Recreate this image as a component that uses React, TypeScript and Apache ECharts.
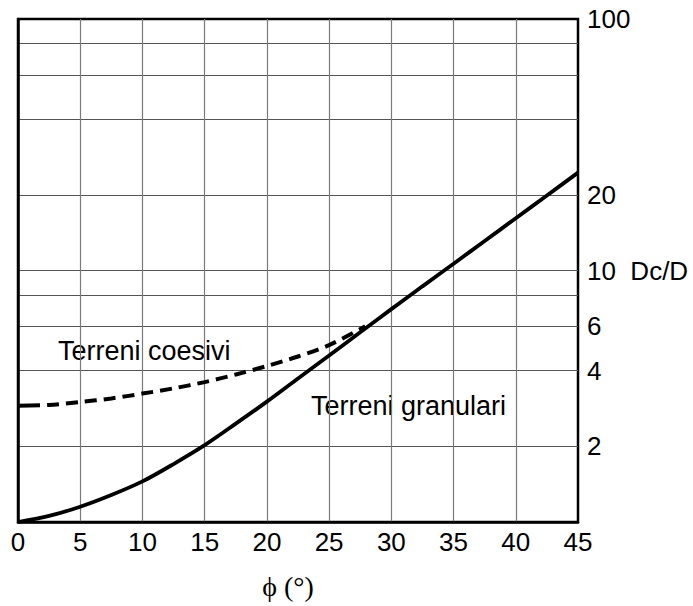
import React, { useEffect, useRef } from "react";
import * as echarts from "echarts";

// Friction angle φ (degrees)
const phiGranulari = [0, 2.5, 5, 7.5, 10, 12.5, 15, 17.5, 20, 22.5, 25, 27.5, 30, 32.5, 35, 37.5, 40, 42.5, 45];
// Dc/D for granular soils
const granulari = [1.0, 1.057, 1.15, 1.28, 1.45, 1.7, 2.02, 2.46, 3.01, 3.72, 4.59, 5.68, 7.02, 8.65, 10.64, 13.1, 16.14, 19.86, 24.5];

const phiCoesivi = [0, 2.5, 5, 7.5, 10, 12.5, 15, 17.5, 20, 22.5, 25, 27.9];
// Dc/D for cohesive soils
const coesivi = [2.9, 2.92, 3.0, 3.1, 3.24, 3.4, 3.6, 3.86, 4.17, 4.55, 5.05, 6.0];

const xTicks = { min: 0, max: 45, step: 5 };
const yGridValues = [2, 4, 6, 8, 10, 20, 40, 60, 80];
const yLabelValues = [2, 4, 6, 10, 20, 100];

const SANS = "'Liberation Sans', Arial, Helvetica, sans-serif";
const SERIF = "'Liberation Serif', 'Times New Roman', serif";

// long first dash, then regular dashes
const coesiviDash = [22, 7, ...Array.from({ length: 40 }, () => [12, 7]).flat()];

export default function App() {
  const ref = useRef<HTMLDivElement>(null);

  useEffect(() => {
    document.body.style.margin = "0";
    if (!ref.current) return;
    const chart = echarts.init(ref.current, undefined, { renderer: "svg" });

    chart.setOption({
      animation: false,
      backgroundColor: "#fff",
      grid: {
        left: 18,
        right: 115,
        top: 19,
        bottom: 84,
        show: true,
        borderColor: "#000",
        borderWidth: 2.5,
        containLabel: false,
      },
      xAxis: {
        type: "value",
        min: xTicks.min,
        max: xTicks.max,
        interval: xTicks.step,
        axisLine: { show: true, lineStyle: { color: "#000", width: 2.5 } },
        axisTick: { show: false },
        axisLabel: { color: "#000", fontSize: 26, fontFamily: SANS, margin: 7 },
        splitLine: {
          show: true,
          showMinLine: false,
          showMaxLine: false,
          lineStyle: { color: "#7a7a7a", width: 1.2 },
        },
      },
      yAxis: {
        type: "log",
        logBase: 10,
        min: 1,
        max: 100,
        position: "right",
        axisLine: { show: true, lineStyle: { color: "#000", width: 2.5 } },
        axisTick: { show: false, customValues: yGridValues },
        axisLabel: {
          customValues: yLabelValues,
          color: "#000",
          fontSize: 26,
          fontFamily: SANS,
          margin: 9,
          formatter: (v: number) => (v === 10 ? "10  Dc/D" : String(v)),
        },
        splitLine: { show: true, lineStyle: { color: "#555", width: 1.2 } },
      },
      series: [
        {
          name: "Terreni coesivi",
          type: "line",
          data: phiCoesivi.map((p, i) => [p, coesivi[i]]),
          symbol: "none",
          smooth: 0.3,
          clip: false,
          lineStyle: { color: "#000", width: 4, type: coesiviDash },
        },
        {
          name: "Terreni granulari",
          type: "line",
          data: phiGranulari.map((p, i) => [p, granulari[i]]),
          symbol: "none",
          smooth: 0.3,
          clip: false,
          lineStyle: { color: "#000", width: 3.8 },
        },
      ],
      graphic: [
        {
          type: "text",
          x: 58,
          y: 351,
          style: {
            text: "Terreni coesivi",
            fontSize: 27,
            fontFamily: SANS,
            fill: "#000",
            align: "left",
            verticalAlign: "middle",
          },
        },
        {
          type: "text",
          x: 311,
          y: 406,
          style: {
            text: "Terreni granulari",
            fontSize: 27,
            fontFamily: SANS,
            fill: "#000",
            align: "left",
            verticalAlign: "middle",
          },
        },
        {
          type: "text",
          x: 288,
          y: 586,
          style: {
            text: "ϕ (°)",
            fontSize: 28,
            fontFamily: SERIF,
            fill: "#000",
            align: "center",
            verticalAlign: "middle",
          },
        },
      ],
    });

    return () => chart.dispose();
  }, []);

  return <div ref={ref} style={{ width: 693, height: 606 }} />;
}
